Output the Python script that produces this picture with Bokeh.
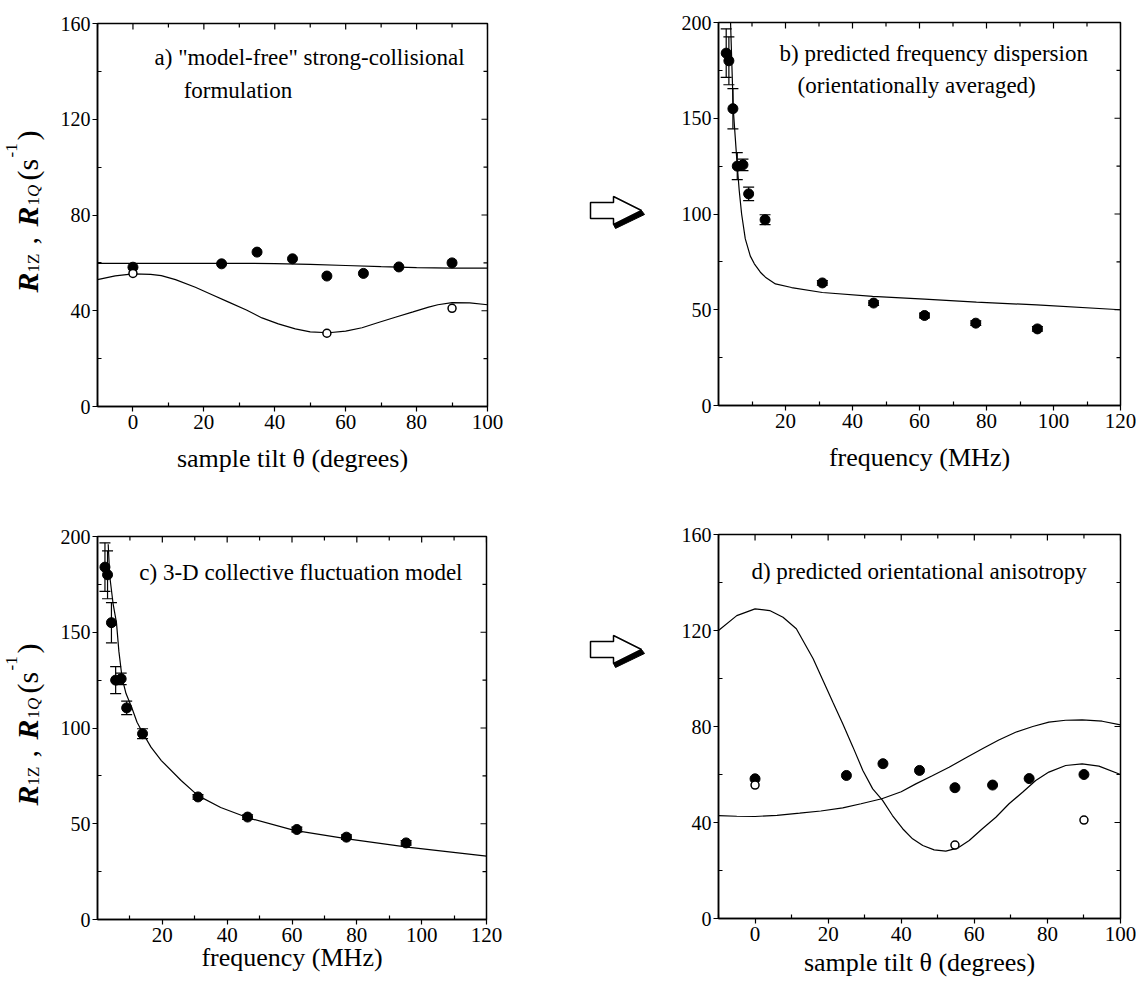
from bokeh.plotting import figure
from bokeh.models import ColumnDataSource, Range1d, FixedTicker, Label, Whisker, TeeHead
from bokeh.layouts import row, column
from bokeh.embed import file_html
from bokeh.resources import INLINE

FONT = "Liberation Serif"

# ---- measured rates versus sample tilt (degrees) ----
tilt_z = [0, 25, 35, 45, 54.7, 65, 75, 90]
r1z_tilt = [58.2, 59.6, 64.5, 61.7, 54.5, 55.6, 58.3, 60.0]
tilt_q = [0, 54.7, 90]
r1q_tilt = [55.6, 30.6, 41.0]

# ---- measured rates versus frequency (MHz) ----
freq = [2.3, 3.1, 4.3, 5.6, 7.3, 9.0, 13.9, 31.0, 46.3, 61.5, 76.8, 95.2]
r1z_freq = [184, 180, 155, 125, 125.7, 110.5, 97, 64, 53.5, 47, 43, 40]
r1z_freq_err = [12.7, 12.5, 10.5, 7.0, 3.0, 3.5, 2.6, 1.2, 1.2, 1.2, 1.2, 1.2]

# ---- (a) model-free strong-collisional fit ----
a_z_theta = [-10, 10, 30, 40, 50, 60, 70, 80, 90, 100]
a_z_rate = [59.8, 59.8, 59.8, 59.7, 59.4, 58.9, 58.4, 58.0, 57.8, 57.8]
a_q_theta = [-10, -5, 0, 5, 8, 12, 17.6, 22, 27, 32, 36.4, 41, 45.8, 50, 55.2,
             60, 64.6, 69, 74, 79, 83.4, 86, 90, 95, 100]
a_q_rate = [53.0, 54.6, 55.4, 55.2, 54.7, 53.0, 49.8, 46.9, 43.6, 40.3, 37.0,
            34.5, 32.4, 31.2, 30.8, 31.5, 32.9, 35.0, 37.3, 39.5, 41.5, 42.5,
            43.4, 43.3, 42.5]

# ---- (b) predicted frequency dispersion, orientationally averaged ----
b_freq = [3.6, 4.4, 5.0, 5.6, 6.2, 6.9, 8.0, 9.5, 10.7, 12.5, 14.0, 17.0,
          21.8, 31, 46, 61.5, 77, 95, 120]
b_rate = [200, 155, 140, 125, 112, 100, 87, 78, 74, 69.6, 67, 63.5, 61.6,
          59, 57, 55.5, 54, 52.5, 50]

# ---- (c) 3-D collective fluctuation model ----
c_freq = [3.3, 3.8, 4.8, 5.85, 6.6, 7.6, 8.8, 10.5, 12.2, 14.1, 16.5, 19.7,
          25.8, 31, 38, 46.4, 60.7, 77.1, 95.6, 120]
c_rate = [196, 179, 165, 155, 140, 126, 118, 111, 103, 97, 90, 83, 72.6,
          64.7, 58.5, 53.1, 46.5, 42.1, 37.8, 33.1]

# ---- (d) predicted orientational anisotropy ----
d_q_theta = [-10, -5, 0, 4, 7.65, 11.3, 13.1, 15.9, 18.6, 21.3, 24.0, 26.8,
             29.5, 32.2, 34.9, 37.6, 40.4, 43.1, 45.9, 49.0, 52.2, 55.4, 58.6,
             62.2, 65.9, 69.5, 73.2, 76.8, 80.4, 85.0, 89.5, 94.1, 100]
d_q_rate = [120, 126.2, 129, 128.3, 125.5, 120.7, 115.8, 108.2, 99.2, 90.1,
            81.1, 71.4, 61.7, 54.0, 49.2, 42.9, 37.4, 33.2, 30.4, 28.6, 28.1,
            29.3, 32.5, 37.4, 42.2, 47.8, 52.6, 57.5, 61.0, 63.75, 64.4, 63.5,
            60.0]
d_z_theta = [-10, -5, 0, 6, 12.2, 18, 24, 29, 34.7, 40, 44, 48.5, 53.1, 57.6,
             62.2, 66.7, 71.3, 76, 80.4, 85, 89.5, 95, 100]
d_z_rate = [42.9, 42.6, 42.5, 43.0, 43.9, 44.8, 46.1, 47.8, 49.9, 52.8, 56.1,
            59.5, 63.0, 66.9, 70.7, 74.4, 77.6, 80.0, 81.8, 82.6, 82.8, 82.2,
            80.7]

TILT_MAJOR = [0, 20, 40, 60, 80, 100]
TILT_MINOR = [-10, 10, 30, 50, 70, 90]
FREQ_MAJOR = [20, 40, 60, 80, 100, 120]
FREQ_MINOR = [10, 30, 50, 70, 90, 110]
R160_MAJOR = [0, 40, 80, 120, 160]
R160_MINOR = [20, 60, 100, 140]
R200_MAJOR = [0, 50, 100, 150, 200]
R200_MINOR = [25, 75, 125, 175]


def style_axis(ax, size):
    ax.axis_line_width = 1.5
    ax.axis_line_color = "black"
    ax.major_tick_line_color = "black"
    ax.minor_tick_line_color = "black"
    ax.major_tick_line_width = 1.2
    ax.minor_tick_line_width = 1.2
    ax.major_label_text_font = FONT
    ax.major_label_text_color = "black"
    ax.major_label_text_font_size = size
    ax.axis_label_text_font = FONT
    ax.axis_label_text_font_style = "normal"
    ax.axis_label_text_font_size = "26px"
    ax.axis_label_text_color = "black"
    ax.major_tick_out = 5
    ax.major_tick_in = 0
    ax.minor_tick_in = 4
    ax.minor_tick_out = 0


def inner_ticks(p, xr, yr, fw, fh, xt, xm, yt, ym):
    # inward ticks along the top and right edges of the frame
    major, minor = 6, 4
    dy = (yr[1] - yr[0]) / fh
    dx = (xr[1] - xr[0]) / fw
    for ticks, ln in ((xt, major), (xm, minor)):
        p.segment(x0=ticks, x1=ticks, y0=[yr[1]] * len(ticks),
                  y1=[yr[1] - ln * dy] * len(ticks),
                  line_color="black", line_width=1.2)
    for ticks, ln in ((yt, major), (ym, minor)):
        p.segment(x0=[xr[1]] * len(ticks), x1=[xr[1] - ln * dx] * len(ticks),
                  y0=ticks, y1=ticks, line_color="black", line_width=1.2)


def panel(w, h, xr, yr, borders, xt, xm, yt, ym, xlabel, standoff):
    left, right, top, bottom = borders
    p = figure(width=w, height=h, x_range=Range1d(*xr), y_range=Range1d(*yr),
               output_backend="svg", toolbar_location=None,
               min_border_left=left, min_border_right=right,
               min_border_top=top, min_border_bottom=bottom)
    p.grid.visible = False
    p.outline_line_color = "black"
    p.outline_line_width = 1.5
    p.background_fill_color = "white"
    p.border_fill_color = "white"

    xa = p.xaxis[0]
    xa.ticker = FixedTicker(ticks=xt, minor_ticks=xm)
    style_axis(xa, "21px")
    xa.major_label_standoff = 3
    xa.axis_label = xlabel
    xa.axis_label_standoff = standoff

    ya = p.yaxis[0]
    ya.ticker = FixedTicker(ticks=yt, minor_ticks=ym)
    style_axis(ya, "20px")
    ya.major_label_standoff = 2

    fw = w - left - right
    fh = h - top - bottom
    inner_ticks(p, xr, yr, fw, fh, xt, xm, yt, ym)
    return p


def title(p, lines):
    for (x, y, txt) in lines:
        p.add_layout(Label(x=x, y=y, text=txt, text_font=FONT,
                           text_font_size="23px", text_color="black",
                           text_baseline="middle", text_align="left"))


def blank(width, height, xr, yr, top=0, bottom=0):
    s = figure(width=width, height=height, x_range=Range1d(*xr),
               y_range=Range1d(*yr), output_backend="svg",
               toolbar_location=None, min_border=0,
               min_border_top=top, min_border_bottom=bottom,
               x_axis_type=None, y_axis_type=None)
    s.grid.visible = False
    s.outline_line_color = None
    s.border_fill_color = "white"
    s.background_fill_color = "white"
    return s


def rate_strip(height, top, bottom):
    # vertical axis title "R1Z , R1Q (s-1)"; y counts pixels above the
    # bottom edge of the neighbouring plot frame
    fh = height - top - bottom
    s = blank(57, height, (0, 57), (0, fh), top, bottom)
    main_x, sub_x, sup_x = 27, 33, 11
    pieces = [
        ("R", "30px", "bold italic", main_x, 114),
        ("1Z", "17px", "normal", sub_x, 134),
        (",", "30px", "normal", main_x, 162),
        ("R", "30px", "bold italic", main_x, 180),
        ("1", "17px", "normal", sub_x, 201),
        ("Q", "17px", "italic", sub_x, 209.5),
        ("(s", "30px", "normal", main_x, 226),
        ("-1", "17px", "normal", sup_x, 249),
        (")", "30px", "normal", main_x, 266),
    ]
    for txt, size, style, x, off in pieces:
        s.add_layout(Label(x=x, y=off, text=txt, angle=90,
                           angle_units="deg", text_font=FONT,
                           text_font_size=size, text_font_style=style,
                           text_color="black", text_align="left",
                           text_baseline="alphabetic"))
    return s


def tilt_points(p):
    p.scatter(tilt_z, r1z_tilt, size=10, marker="circle",
              fill_color="black", line_color="black")
    p.scatter(tilt_q, r1q_tilt, size=8, marker="circle",
              fill_color="white", line_color="black", line_width=1.5)


def freq_points(p):
    upper = [r + e for r, e in zip(r1z_freq, r1z_freq_err)]
    lower = [r - e for r, e in zip(r1z_freq, r1z_freq_err)]
    src = ColumnDataSource(dict(x=freq, y=r1z_freq, upper=upper, lower=lower))
    p.add_layout(Whisker(source=src, base="x", upper="upper", lower="lower",
                         line_color="black", line_width=1.2,
                         upper_head=TeeHead(size=11, line_width=1.2, line_color="black"),
                         lower_head=TeeHead(size=11, line_width=1.2, line_color="black")))
    p.scatter("x", "y", source=src, size=10, marker="circle",
              fill_color="black", line_color="black")


# (a)
pa = panel(483, 480, (-10, 100), (0, 160), (40, 53, 23, 74),
           TILT_MAJOR, TILT_MINOR, R160_MAJOR, R160_MINOR,
           "sample tilt \u03b8 (degrees)", 12)
pa.line(a_z_theta, a_z_rate, line_color="black", line_width=1.2)
pa.line(a_q_theta, a_q_rate, line_color="black", line_width=1.2)
tilt_points(pa)
title(pa, [(6.1, 145.8, 'a) "model-free" strong-collisional'),
           (14.3, 132.0, "formulation")])

# (b)
pb = panel(476, 480, (0, 120), (0, 200), (58, 16, 22, 75),
           FREQ_MAJOR, FREQ_MINOR, R200_MAJOR, R200_MINOR,
           "frequency (MHz)", 12)
pb.line(b_freq, b_rate, line_color="black", line_width=1.2)
freq_points(pb)
title(pb, [(18.2, 183.8, "b) predicted frequency dispersion"),
           (23.6, 167.1, "(orientationally averaged)")])

# (c)
pc = panel(483, 504, (0, 120), (0, 200), (39, 54, 56, 65),
           FREQ_MAJOR, FREQ_MINOR, R200_MAJOR, R200_MINOR,
           "frequency (MHz)", -2)
pc.line(c_freq, c_rate, line_color="black", line_width=1.2)
freq_points(pc)
title(pc, [(12.9, 181.2, "c) 3-D collective fluctuation model")])

# (d)
pd_ = panel(476, 504, (-10, 100), (0, 160), (57, 16, 54, 66),
            TILT_MAJOR, TILT_MINOR, R160_MAJOR, R160_MINOR,
            "sample tilt \u03b8 (degrees)", 4)
pd_.line(d_q_theta, d_q_rate, line_color="black", line_width=1.2)
pd_.line(d_z_theta, d_z_rate, line_color="black", line_width=1.2)
tilt_points(pd_)
title(pd_, [(-1.0, 144.6, "d) predicted orientational anisotropy")])

# middle strip with the block arrows (y measured downward from the top)
mid = blank(120, 984, (540, 660), (984, 0))
arrow_x = (0, 23, 23, 51, 23, 23, 0)
arrow_y = (-8, -8, -14, 0, 14, 8, 8)
shadow_x = (23, 51, 54, 25)
shadow_y = (14, 0, 4, 18)
for (ax0, ay0) in [(590, 210), (590, 649)]:
    mid.patch([ax0 + v for v in shadow_x], [ay0 + v for v in shadow_y],
              fill_color="black", line_color="black", line_width=1)
    mid.patch([ax0 + v for v in arrow_x], [ay0 + v for v in arrow_y],
              fill_color="white", line_color="black", line_width=1.5)

left_col = column(row(rate_strip(480, 23, 74), pa),
                  row(rate_strip(504, 56, 65), pc))
layout = row(left_col, mid, column(pb, pd_))
open("out.html", "w").write(file_html(layout, INLINE))
